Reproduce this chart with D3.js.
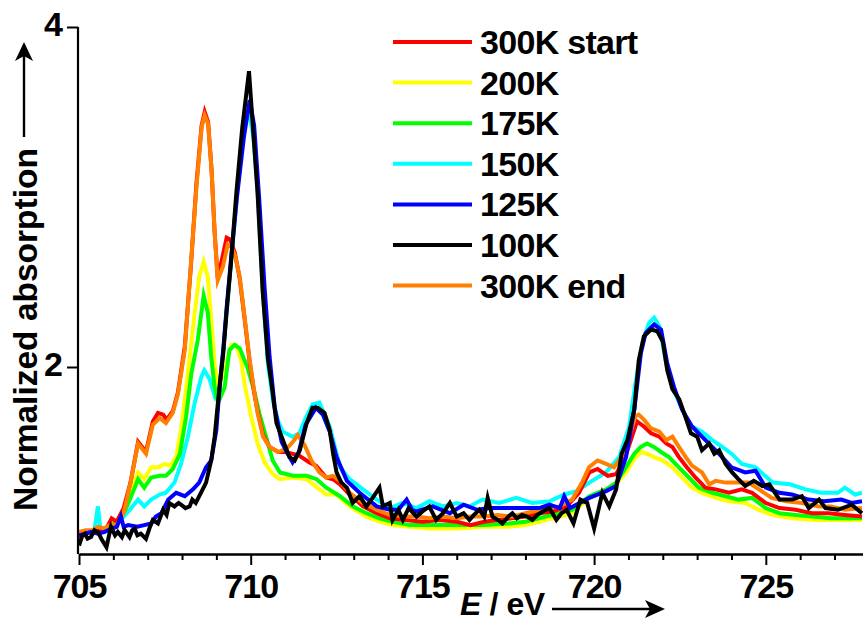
<!DOCTYPE html>
<html><head><meta charset="utf-8">
<script src="https://cdn.jsdelivr.net/npm/d3@7"></script>
<style>
html,body{margin:0;padding:0;background:#fff;}
svg text{font-family:"Liberation Sans",Arial,sans-serif;font-weight:bold;fill:#000;}
</style></head><body>
<svg id="chart" width="863" height="624"></svg>
<script>
// ---- data ----
const xMajorTicks = [705, 710, 715, 720, 725];
const xMinorTicks = [706,707,708,709,711,712,713,714,716,717,718,719,721,722,723,724,726,727];
const yTicks = [2, 4];
const legendLabels = ["300K start", "200K", "175K", "150K", "125K", "100K", "300K end"];
const legendColors = ["#ff0000", "#ffff00", "#00ff00", "#00ffff", "#0000ff", "#000000", "#ff8000"];

const s300Start = [[705.0,1.00],[705.2,1.02],[705.4,1.03],[705.6,1.04],[705.8,1.05],[705.95,1.11],[706.1,1.09],[706.3,1.17],[706.5,1.32],[706.72,1.56],[706.95,1.50],[707.15,1.68],[707.3,1.73],[707.45,1.72],[707.55,1.69],[707.73,1.74],[707.88,1.85],[708.08,2.12],[708.26,2.6],[708.42,3.08],[708.57,3.42],[708.66,3.50],[708.76,3.44],[708.86,3.16],[708.95,2.79],[709.04,2.52],[709.17,2.64],[709.3,2.76],[709.4,2.75],[709.54,2.67],[709.68,2.52],[709.83,2.27],[709.97,2.03],[710.1,1.85],[710.2,1.74],[710.36,1.60],[710.55,1.53],[710.8,1.50],[711.0,1.50],[711.4,1.48],[711.7,1.44],[711.9,1.42],[712.2,1.35],[712.4,1.34],[712.6,1.31],[712.88,1.25],[713.27,1.18],[713.67,1.14],[714.05,1.11],[714.5,1.10],[715.0,1.09],[715.5,1.10],[716.0,1.09],[716.4,1.07],[716.8,1.09],[717.2,1.10],[717.6,1.11],[718.0,1.12],[718.4,1.14],[718.8,1.15],[719.2,1.18],[719.56,1.26],[719.86,1.38],[720.1,1.40],[720.4,1.36],[720.64,1.37],[720.87,1.45],[721.07,1.57],[721.25,1.68],[721.45,1.65],[721.66,1.61],[721.9,1.59],[722.1,1.55],[722.28,1.53],[722.47,1.47],[722.7,1.41],[722.95,1.35],[723.24,1.29],[723.54,1.28],[723.93,1.26],[724.3,1.28],[724.6,1.26],[725.0,1.20],[725.4,1.17],[725.87,1.16],[726.34,1.14],[726.83,1.14],[727.3,1.13],[727.8,1.12]];

const s200K = [[705.0,1.02],[705.3,1.03],[705.6,1.04],[705.85,1.06],[706.13,1.10],[706.33,1.18],[706.52,1.28],[706.72,1.38],[706.9,1.34],[707.1,1.41],[707.3,1.41],[707.5,1.43],[707.65,1.42],[707.83,1.47],[707.97,1.63],[708.17,1.96],[708.37,2.32],[708.5,2.53],[708.63,2.62],[708.75,2.53],[708.85,2.28],[708.95,2.02],[709.05,1.88],[709.24,1.98],[709.43,2.13],[709.57,2.13],[709.72,2.04],[709.82,1.90],[710.0,1.72],[710.2,1.55],[710.4,1.44],[710.64,1.37],[710.85,1.34],[711.23,1.35],[711.63,1.34],[712.0,1.28],[712.2,1.25],[712.5,1.25],[712.88,1.18],[713.37,1.12],[713.75,1.09],[714.13,1.07],[714.62,1.06],[715.2,1.05],[716.0,1.05],[716.8,1.06],[717.5,1.06],[718.0,1.07],[718.4,1.09],[719.0,1.12],[719.36,1.14],[719.86,1.23],[720.24,1.26],[720.64,1.31],[720.93,1.38],[721.17,1.46],[721.36,1.50],[721.54,1.49],[721.74,1.47],[722.0,1.45],[722.28,1.41],[722.56,1.35],[722.85,1.29],[723.14,1.26],[723.54,1.23],[723.93,1.21],[724.4,1.20],[724.8,1.16],[725.17,1.13],[725.76,1.11],[726.45,1.10],[727.1,1.10],[727.8,1.10]];

const s175K = [[705.0,1.01],[705.3,1.03],[705.6,1.04],[705.9,1.06],[706.13,1.10],[706.33,1.15],[706.52,1.24],[706.72,1.34],[706.9,1.29],[707.1,1.35],[707.35,1.36],[707.53,1.36],[707.73,1.40],[707.94,1.49],[708.12,1.71],[708.27,1.96],[708.46,2.16],[708.63,2.42],[708.75,2.32],[708.85,2.06],[708.95,1.88],[709.05,1.79],[709.24,1.88],[709.38,2.10],[709.53,2.13],[709.68,2.11],[709.9,2.00],[710.1,1.86],[710.26,1.72],[710.46,1.58],[710.64,1.45],[710.85,1.38],[711.23,1.36],[711.63,1.36],[711.92,1.34],[712.2,1.29],[712.6,1.24],[712.97,1.18],[713.37,1.14],[713.75,1.11],[714.13,1.09],[714.62,1.07],[715.2,1.07],[716.0,1.07],[716.8,1.07],[717.5,1.08],[718.0,1.09],[718.4,1.11],[719.36,1.16],[719.86,1.24],[720.35,1.28],[720.64,1.32],[720.93,1.41],[721.17,1.49],[721.36,1.53],[721.54,1.55],[721.74,1.53],[721.95,1.50],[722.18,1.47],[722.47,1.41],[722.76,1.35],[723.05,1.29],[723.44,1.26],[723.83,1.24],[724.2,1.22],[724.6,1.23],[725.0,1.17],[725.4,1.14],[725.87,1.13],[726.34,1.12],[726.9,1.11],[727.8,1.11]];

const s150K = [[705.0,1.02],[705.3,1.03],[705.45,1.04],[705.55,1.18],[705.62,1.05],[705.93,1.06],[706.22,1.10],[706.52,1.17],[706.72,1.22],[706.9,1.18],[707.1,1.22],[707.35,1.25],[707.53,1.26],[707.78,1.32],[707.97,1.43],[708.17,1.59],[708.37,1.79],[708.56,1.94],[708.65,1.98],[708.8,1.93],[708.95,1.83],[709.1,1.90],[709.24,2.18],[709.38,2.51],[709.48,2.73],[709.6,3.02],[709.72,3.28],[709.85,3.45],[709.95,3.50],[710.08,3.35],[710.2,3.05],[710.35,2.45],[710.5,2.02],[710.65,1.80],[710.8,1.68],[710.93,1.62],[711.22,1.59],[711.42,1.61],[711.6,1.70],[711.8,1.78],[712.0,1.79],[712.3,1.65],[712.6,1.41],[712.88,1.34],[713.27,1.28],[713.67,1.22],[714.05,1.17],[714.43,1.20],[714.83,1.17],[715.2,1.21],[715.6,1.18],[716.0,1.20],[716.37,1.18],[716.75,1.22],[717.24,1.20],[717.73,1.23],[718.2,1.20],[718.7,1.21],[719.13,1.25],[719.5,1.27],[719.86,1.32],[720.34,1.38],[720.73,1.47],[721.02,1.65],[721.2,1.90],[721.4,2.14],[721.6,2.26],[721.75,2.29],[721.9,2.24],[722.08,2.04],[722.28,1.88],[722.48,1.79],[722.66,1.71],[722.85,1.65],[723.14,1.62],[723.44,1.57],[723.73,1.53],[724.0,1.49],[724.3,1.43],[724.7,1.41],[725.2,1.32],[725.7,1.31],[726.16,1.28],[726.6,1.26],[727.1,1.26],[727.3,1.29],[727.6,1.25],[727.8,1.26]];

const s125K = [[705.0,1.01],[705.2,1.02],[705.35,1.03],[705.55,1.02],[705.75,1.03],[705.95,1.05],[706.1,1.06],[706.22,1.12],[706.3,1.06],[706.43,1.07],[706.7,1.06],[706.9,1.07],[707.1,1.08],[707.24,1.12],[707.4,1.14],[707.6,1.22],[707.83,1.26],[708.08,1.24],[708.32,1.28],[708.5,1.32],[708.7,1.41],[708.85,1.45],[709.0,1.63],[709.1,1.90],[709.2,2.10],[709.3,2.35],[709.42,2.62],[709.6,3.00],[709.8,3.35],[709.97,3.57],[710.1,3.42],[710.25,2.98],[710.4,2.48],[710.55,2.06],[710.7,1.76],[710.9,1.56],[711.05,1.50],[711.22,1.44],[711.4,1.50],[711.6,1.66],[711.9,1.76],[712.1,1.72],[712.3,1.62],[712.5,1.47],[712.8,1.33],[713.17,1.26],[713.67,1.18],[714.05,1.16],[714.3,1.16],[714.54,1.22],[714.7,1.16],[714.83,1.15],[715.3,1.18],[715.8,1.14],[716.2,1.19],[716.6,1.16],[716.95,1.17],[717.53,1.17],[718.1,1.17],[718.4,1.17],[718.7,1.19],[719.0,1.17],[719.13,1.24],[719.3,1.17],[719.86,1.23],[720.35,1.27],[720.64,1.30],[720.93,1.47],[721.17,1.75],[721.36,2.08],[721.5,2.20],[721.75,2.25],[721.95,2.22],[722.13,2.02],[722.33,1.88],[722.56,1.75],[722.85,1.65],[723.14,1.59],[723.44,1.53],[723.73,1.47],[724.0,1.41],[724.4,1.38],[724.7,1.39],[725.0,1.29],[725.4,1.26],[725.76,1.25],[726.25,1.22],[726.7,1.21],[727.2,1.22],[727.5,1.20],[727.8,1.21]];

const s100K = [[705.0,0.95],[705.1,1.01],[705.17,1.02],[705.25,0.99],[705.35,1.00],[705.45,1.04],[705.55,1.03],[705.65,0.99],[705.8,0.94],[705.93,1.06],[706.05,1.01],[706.13,1.03],[706.25,1.00],[706.33,1.04],[706.47,1.00],[706.55,1.04],[706.62,1.05],[706.7,1.01],[706.8,1.02],[706.95,0.99],[707.05,1.05],[707.15,1.10],[707.3,1.08],[707.45,1.16],[707.55,1.13],[707.63,1.20],[707.78,1.18],[707.9,1.20],[707.97,1.19],[708.1,1.17],[708.22,1.18],[708.3,1.22],[708.4,1.20],[708.55,1.26],[708.7,1.32],[708.85,1.45],[708.95,1.59],[709.05,1.80],[709.2,2.08],[709.3,2.33],[709.42,2.60],[709.58,3.02],[709.75,3.40],[709.95,3.74],[710.2,3.02],[710.35,2.44],[710.5,2.05],[710.62,1.88],[710.75,1.67],[710.9,1.59],[711.13,1.47],[711.28,1.45],[711.43,1.51],[711.63,1.67],[711.8,1.76],[711.95,1.76],[712.15,1.73],[712.3,1.63],[712.4,1.49],[712.5,1.38],[712.64,1.32],[712.8,1.29],[712.97,1.20],[713.17,1.24],[713.37,1.18],[713.55,1.23],[713.75,1.29],[713.85,1.18],[714.05,1.20],[714.13,1.10],[714.3,1.16],[714.43,1.10],[714.6,1.17],[714.83,1.12],[715.0,1.15],[715.2,1.18],[715.4,1.10],[715.6,1.14],[715.8,1.20],[716.0,1.12],[716.2,1.14],[716.37,1.10],[716.5,1.13],[716.66,1.16],[716.8,1.12],[716.9,1.23],[717.04,1.12],[717.2,1.10],[717.33,1.08],[717.5,1.12],[717.62,1.14],[717.75,1.11],[717.9,1.13],[718.05,1.12],[718.2,1.10],[718.35,1.13],[718.5,1.15],[718.7,1.17],[718.9,1.10],[719.05,1.14],[719.2,1.16],[719.4,1.08],[719.6,1.22],[719.8,1.20],[720.0,1.05],[720.24,1.26],[720.44,1.18],[720.64,1.28],[720.8,1.49],[720.97,1.57],[721.17,1.75],[721.3,2.04],[721.45,2.18],[721.66,2.22],[721.84,2.21],[722.0,2.15],[722.13,1.98],[722.28,1.87],[722.48,1.81],[722.67,1.70],[722.82,1.61],[723.0,1.59],[723.14,1.51],[723.35,1.55],[723.5,1.49],[723.64,1.51],[723.83,1.43],[724.02,1.38],[724.2,1.34],[724.4,1.30],[724.65,1.33],[724.9,1.30],[725.1,1.31],[725.4,1.22],[725.77,1.22],[726.05,1.24],[726.25,1.17],[726.55,1.22],[726.74,1.17],[727.1,1.16],[727.5,1.19],[727.8,1.14]];

const s300End = [[705.0,1.03],[705.2,1.04],[705.4,1.04],[705.55,1.06],[705.75,1.05],[705.9,1.07],[706.1,1.07],[706.3,1.14],[706.5,1.32],[706.72,1.55],[706.95,1.49],[707.15,1.66],[707.35,1.70],[707.53,1.67],[707.73,1.73],[707.88,1.84],[708.08,2.10],[708.25,2.58],[708.42,3.06],[708.57,3.41],[708.66,3.48],[708.76,3.43],[708.86,3.16],[708.95,2.79],[709.04,2.51],[709.19,2.59],[709.33,2.72],[709.42,2.71],[709.54,2.66],[709.68,2.53],[709.83,2.28],[709.97,2.04],[710.1,1.86],[710.2,1.73],[710.36,1.59],[710.55,1.53],[710.8,1.50],[711.05,1.52],[711.23,1.56],[711.37,1.60],[711.57,1.54],[711.77,1.45],[712.0,1.38],[712.2,1.35],[712.4,1.36],[712.6,1.33],[712.88,1.26],[713.27,1.20],[713.67,1.16],[714.05,1.13],[714.43,1.12],[714.83,1.12],[715.2,1.11],[715.6,1.12],[716.0,1.11],[716.4,1.12],[716.8,1.12],[717.2,1.13],[717.6,1.12],[718.0,1.14],[718.4,1.16],[718.7,1.17],[719.0,1.18],[719.36,1.22],[719.65,1.32],[719.85,1.41],[720.1,1.45],[720.35,1.43],[720.58,1.41],[720.8,1.47],[721.02,1.59],[721.2,1.71],[721.3,1.72],[721.45,1.69],[721.65,1.64],[721.9,1.62],[722.1,1.57],[722.28,1.59],[722.47,1.53],[722.67,1.47],[722.85,1.42],[723.14,1.38],[723.35,1.31],[723.54,1.33],[723.83,1.32],[724.2,1.32],[724.5,1.32],[724.8,1.28],[725.17,1.23],[725.6,1.21],[726.05,1.20],[726.55,1.18],[726.9,1.18],[727.3,1.16],[727.8,1.17]];

// ---- drawing ----
const svg = d3.select("#chart");
const x = d3.scaleLinear().domain([705, 727.83]).range([79, 863]);
const y = d3.scaleLinear().domain([0.9, 4]).range([554, 27]);

const series = [
  {data: s150K, color: legendColors[3]},
  {data: s200K, color: legendColors[1]},
  {data: s175K, color: legendColors[2]},
  {data: s300Start, color: legendColors[0]},
  {data: s300End, color: legendColors[6]},
  {data: s125K, color: legendColors[4]},
  {data: s100K, color: legendColors[5]}
];

const line = d3.line().x(d => x(d[0])).y(d => y(d[1]));
svg.append("g").selectAll("path").data(series).join("path")
  .attr("d", d => line(d.data))
  .attr("fill", "none")
  .attr("stroke", d => d.color)
  .attr("stroke-width", 4)
  .attr("stroke-linejoin", "miter")
  .attr("stroke-miterlimit", 6);

// x axis
const gx = svg.append("g").attr("transform", "translate(0,554)");
gx.call(d3.axisBottom(x).tickValues(xMinorTicks).tickSize(6).tickSizeOuter(0).tickFormat(""));
gx.append("g").call(d3.axisBottom(x).tickValues(xMajorTicks).tickSize(11).tickSizeOuter(0).tickPadding(9).tickFormat(d3.format("d")));
gx.selectAll("path.domain").attr("stroke-width", 2.2).attr("stroke", "#000");
gx.selectAll(".tick line").attr("stroke-width", 2).attr("stroke", "#000");
gx.selectAll(".tick text").attr("font-size", 34).attr("letter-spacing", -1).attr("font-family", null).attr("fill", "#000");

// y axis
const gy = svg.append("g").attr("transform", "translate(78,0)");
gy.call(d3.axisLeft(y).tickValues(yTicks).tickSize(11).tickSizeOuter(0).tickPadding(4).tickFormat(d3.format("d")));
gy.select("path.domain").attr("stroke-width", 2.2).attr("stroke", "#000").attr("d", `M0,${y(4)}V554`);
gy.selectAll(".tick line").attr("stroke-width", 2).attr("stroke", "#000");
gy.selectAll(".tick text").attr("font-size", 34).attr("font-family", null).attr("dy", "8px").attr("fill", "#000");

// axis titles
svg.append("text").attr("transform", "translate(37,511) rotate(-90)")
  .attr("font-size", 33.5).attr("letter-spacing", 0).text("Normalized absorption");
svg.append("line").attr("x1", 24).attr("x2", 24).attr("y1", 137).attr("y2", 52).attr("stroke", "#000").attr("stroke-width", 2.4);
svg.append("path").attr("d", "M24,42 L33,61 L24,56 L15,61 Z").attr("fill", "#000");

const xt = svg.append("text").attr("x", 460).attr("y", 615).attr("font-size", 32).attr("letter-spacing", -0.4);
xt.append("tspan").attr("font-style", "italic").text("E");
xt.append("tspan").text(" / eV");
svg.append("line").attr("x1", 552).attr("x2", 655).attr("y1", 609).attr("y2", 609).attr("stroke", "#000").attr("stroke-width", 2.4);
svg.append("path").attr("d", "M665,609 L645,600 L650,609 L645,618 Z").attr("fill", "#000");

// legend
const lg = svg.append("g");
const rowY = i => 42 + i * 40.6;
lg.selectAll("line").data(legendLabels).join("line")
  .attr("x1", 393).attr("x2", 472)
  .attr("y1", (d, i) => rowY(i)).attr("y2", (d, i) => rowY(i))
  .attr("stroke", (d, i) => legendColors[i]).attr("stroke-width", 4);
lg.selectAll("text").data(legendLabels).join("text")
  .attr("x", 480).attr("y", (d, i) => rowY(i) + 12)
  .attr("font-size", 34).attr("letter-spacing", -0.7)
  .text(d => d);
</script>
</body></html>
